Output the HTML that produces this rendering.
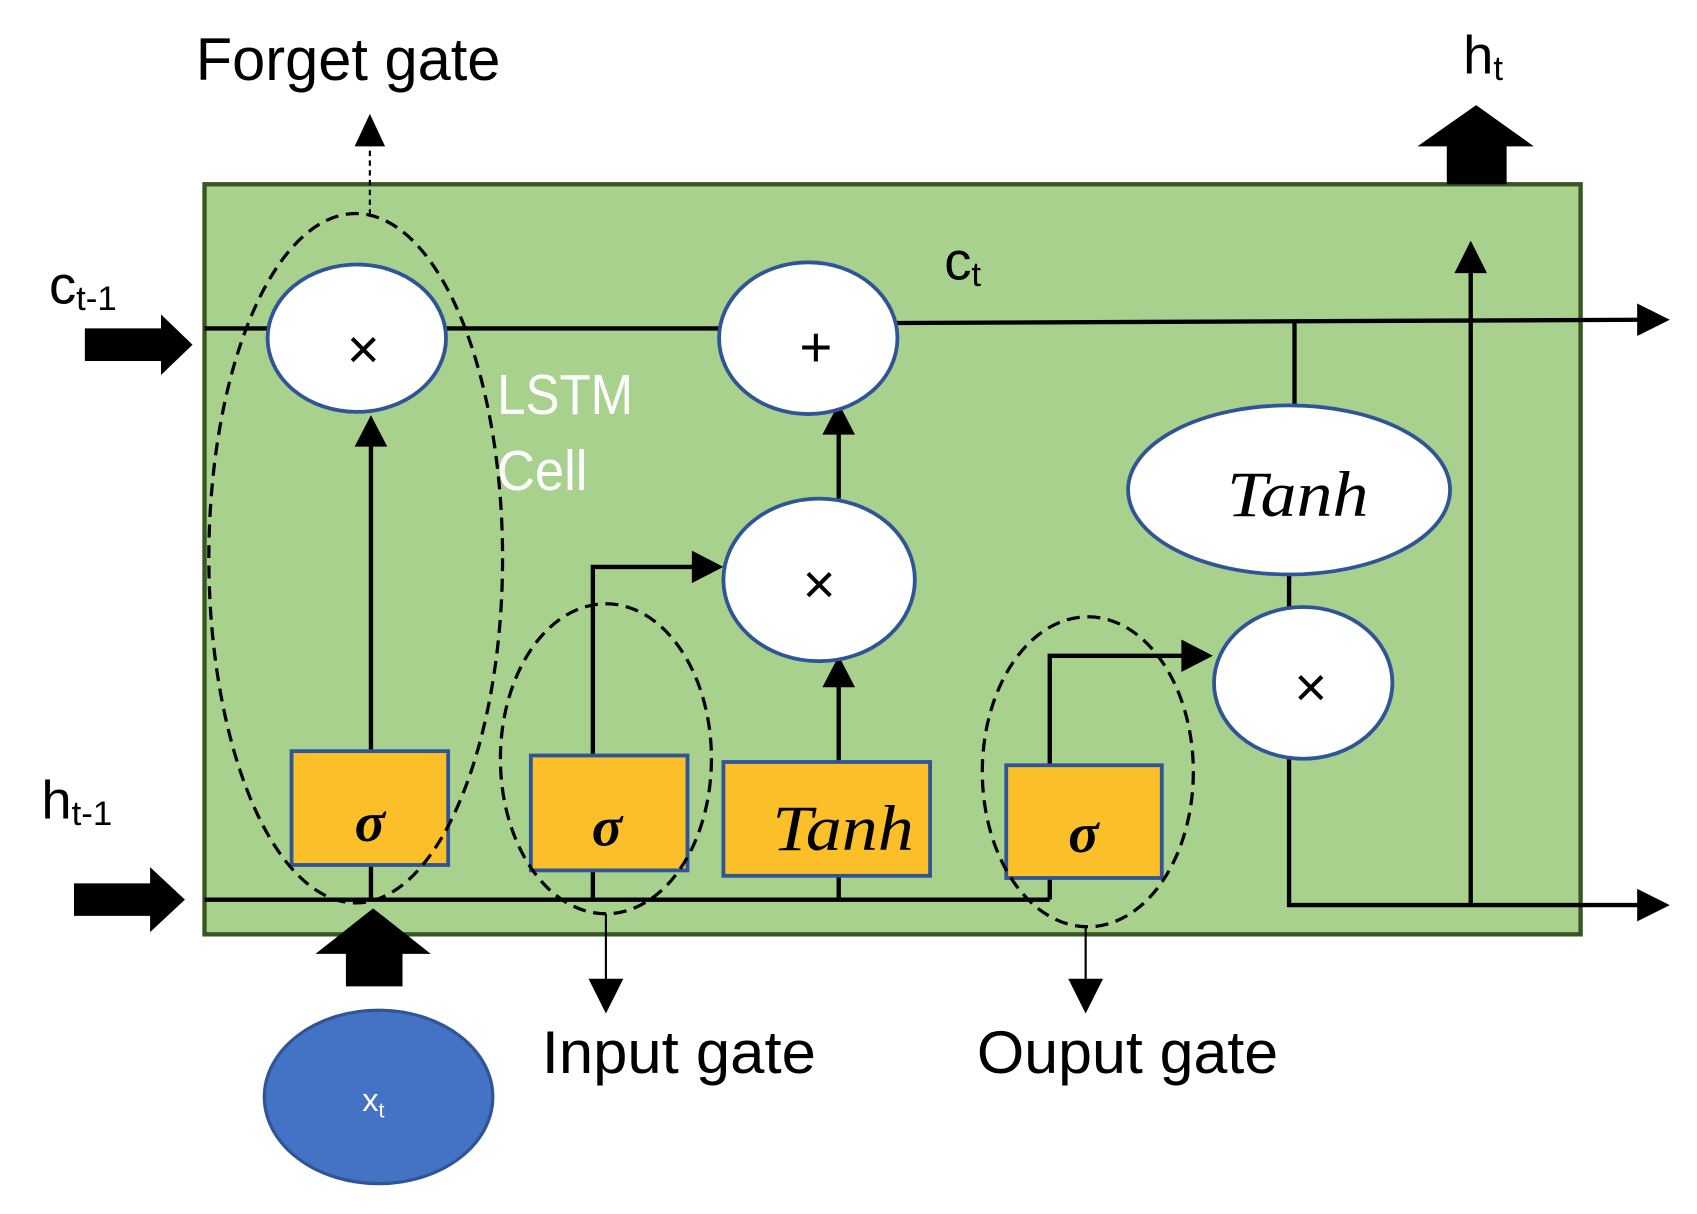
<!DOCTYPE html>
<html><head><meta charset="utf-8"><style>html,body{margin:0;padding:0;background:#fff}svg{display:block}</style></head>
<body>
<svg width="1697" height="1214" viewBox="0 0 1560 1120" preserveAspectRatio="none" xmlns="http://www.w3.org/2000/svg" font-family="Liberation Sans, sans-serif">
<rect x="188" y="170" width="1265" height="692" fill="#a9d18e" stroke="#375623" stroke-width="4"/>
<g stroke="#000" stroke-width="4" fill="none">
<line x1="188" y1="303" x2="662" y2="303"/>
<line x1="824" y1="298" x2="1510" y2="295"/>
<line x1="188" y1="830" x2="965" y2="830"/>
<polyline points="965,830 965,605 1092,605"/>
<line x1="341" y1="693" x2="341" y2="410"/>
<line x1="341" y1="798" x2="341" y2="830"/>
<polyline points="545,830 545,523 640,523"/>
<line x1="771" y1="703" x2="771" y2="632"/>
<line x1="771" y1="808" x2="771" y2="830"/>
<line x1="771" y1="460" x2="771" y2="398"/>
<polyline points="1185,695 1185,835 1510,835"/>
<line x1="1352" y1="835" x2="1352" y2="250"/>
<line x1="1190" y1="297" x2="1190" y2="378"/>
<line x1="1185" y1="530" x2="1185" y2="560"/>
</g>
<g fill="#000">
<polygon points="1535,295 1505,280 1505,310"/>
<polygon points="1535,835 1505,820 1505,850"/>
<polygon points="341,383 326,412 356,412"/>
<polygon points="771,372 756,401 786,401"/>
<polygon points="771,605 756,634 786,634"/>
<polygon points="665,523 636,508 636,538"/>
<polygon points="1115,605 1086,590 1086,620"/>
<polygon points="1352,222 1337,252 1367,252"/>
<polygon points="78,303 148,303 148,290 177,318 148,346 148,333 78,333"/>
<polygon points="68,815 138,815 138,800 170,830 138,860 138,845 68,845"/>
<polygon points="1330,170 1385,170 1385,135 1410,135 1357,97 1303,135 1330,135"/>
<polygon points="318,910 370,910 370,880 396,880 343,838 290,880 318,880"/>
<polygon points="340,105 326,135 354,135"/>
<polygon points="557,935 541,903 573,903"/>
<polygon points="998,935 982,903 1014,903"/>
</g>
<line x1="340" y1="198" x2="340" y2="133" stroke="#000" stroke-width="2" stroke-dasharray="5,4"/>
<line x1="557" y1="843" x2="557" y2="905" stroke="#000" stroke-width="2"/>
<line x1="998" y1="855" x2="998" y2="905" stroke="#000" stroke-width="2"/>
<g fill="#fff" stroke="#2f5597" stroke-width="3.5">
<ellipse cx="328" cy="312" rx="82" ry="68"/>
<ellipse cx="743" cy="312" rx="82" ry="70"/>
<ellipse cx="753" cy="535" rx="88" ry="75"/>
<ellipse cx="1185" cy="452" rx="148" ry="78"/>
<ellipse cx="1198" cy="630" rx="82" ry="70"/>
</g>
<g fill="#fbbf2a" stroke="#2f5597" stroke-width="3.5">
<rect x="268" y="693" width="144" height="105"/>
<rect x="488" y="697" width="144" height="106"/>
<rect x="665" y="703" width="190" height="105"/>
<rect x="925" y="706" width="143" height="104"/>
</g>
<g fill="none" stroke="#000" stroke-width="3" stroke-dasharray="12,7">
<ellipse cx="327" cy="515" rx="135" ry="318"/>
<ellipse cx="557" cy="700" rx="97" ry="143"/>
<ellipse cx="1000" cy="712" rx="97" ry="143"/>
</g>
<ellipse cx="348" cy="1012" rx="105" ry="80" fill="#4472c4" stroke="#2f5597" stroke-width="3"/>
<g font-size="52" text-anchor="middle" fill="#000">
<text x="334" y="340">×</text><text x="750" y="338">+</text><text x="753" y="557">×</text><text x="1205" y="652">×</text>
</g>
<g font-family="Liberation Serif, serif" font-style="italic" font-weight="bold" font-size="52" text-anchor="middle">
<text x="340" y="776">σ</text><text x="558" y="780">σ</text><text x="996" y="786">σ</text>
</g>
<g font-family="Liberation Serif, serif" font-style="italic" font-size="60" text-anchor="middle">
<text x="775" y="784" textLength="130" lengthAdjust="spacingAndGlyphs">Tanh</text><text x="1193" y="476" textLength="130" lengthAdjust="spacingAndGlyphs">Tanh</text>
</g>
<g font-size="56">
<text x="180" y="74" textLength="280" lengthAdjust="spacingAndGlyphs">Forget gate</text>
<text x="498" y="990" textLength="252" lengthAdjust="spacingAndGlyphs">Input gate</text>
<text x="898" y="990" textLength="277" lengthAdjust="spacingAndGlyphs">Ouput gate</text>
</g>
<g font-size="50">
<text x="1345" y="68">h<tspan font-size="32" dy="6">t</tspan></text>
<text x="868" y="258">c<tspan font-size="32" dy="6">t</tspan></text>
<text x="45" y="280">c<tspan font-size="32" dy="6">t-1</tspan></text>
<text x="38" y="755">h<tspan font-size="32" dy="6">t-1</tspan></text>
</g>
<g font-size="52" fill="#fff"><text x="457" y="382" textLength="125" lengthAdjust="spacingAndGlyphs">LSTM</text><text x="457" y="452" textLength="83" lengthAdjust="spacingAndGlyphs">Cell</text></g>
<text x="333" y="1025" font-size="30" fill="#fff">x<tspan font-size="20" dy="6">t</tspan></text>
</svg>
</body></html>
